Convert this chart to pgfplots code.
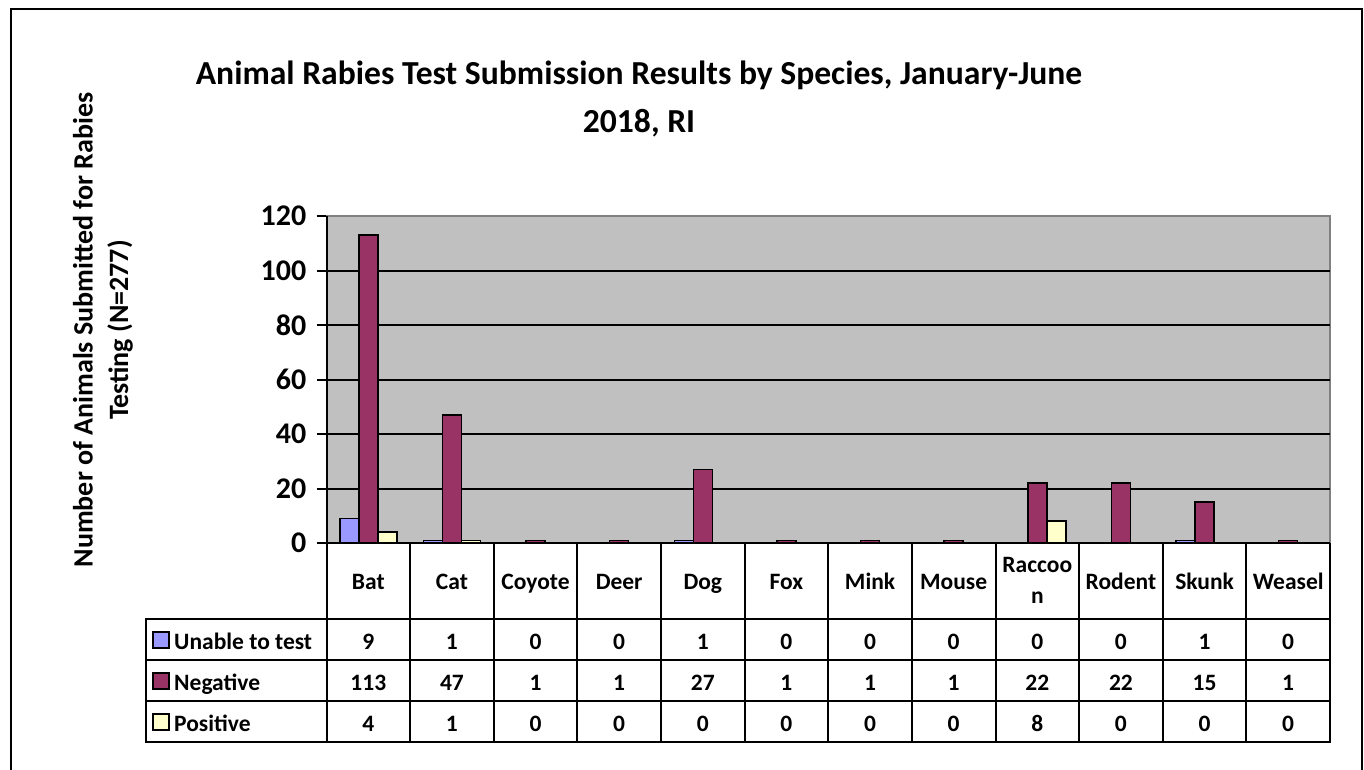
\documentclass[border=0pt]{standalone}
\usepackage{fontspec}
\setmainfont{Carlito}
\usepackage{pgfplots}
\pgfplotsset{compat=1.18}
\definecolor{unable}{HTML}{9999FF}
\definecolor{neg}{HTML}{993366}
\definecolor{pos}{HTML}{FFFFCC}
\definecolor{plotbg}{HTML}{C0C0C0}
\definecolor{bordergray}{HTML}{808080}
\begin{document}
\begin{tikzpicture}[x=1pt,y=1pt]
\useasboundingbox (0,0) rectangle (1364,-770);
\fill[white] (0,0) rectangle (1364,-770);
\draw[line width=2pt] (11,-800) -- (11,-9) -- (1362,-9) -- (1362,-800);
% title
\node[font=\fontsize{33.6}{40}\selectfont\bfseries] at (639,-75) {Animal Rabies Test Submission Results by Species, January-June};
\node[font=\fontsize{33.6}{40}\selectfont\bfseries] at (639,-123) {2018, RI};
% y label
\node[rotate=90,font=\fontsize{28}{34}\selectfont\bfseries] at (83,-330) {Number of Animals Submitted for Rabies};
\node[rotate=90,font=\fontsize{28}{34}\selectfont\bfseries] at (120,-330) {Testing (N=277)};
\begin{axis}[
  at={(326.5pt,-543pt)}, anchor=south west, scale only axis,
  width=1003.5pt, height=327pt,
  ybar=0pt, bar width=19pt,
  xmin=-0.5, xmax=11.5, ymin=0, ymax=120,
  xtick=\empty,
  ytick={0,20,...,120},
  tick pos=left,
  tick align=outside, major tick length=10pt,
  ytick style={black, line width=2pt},
  /pgf/number format/assume math mode=true,
  yticklabel style={font=\fontsize{30}{36}\selectfont\bfseries, anchor=east, inner sep=0pt, xshift=-10pt},
  axis background/.style={fill=plotbg},
  axis line style={draw=bordergray, line width=2pt},
  extra y ticks={20,40,60,80,100},
  extra y tick labels={},
  extra y tick style={ymajorgrids=true, major grid style={black, line width=2pt}, major tick length=0pt},
  clip=false,
]
\addplot[fill=unable, draw=black, line width=1.5pt] coordinates {(0,9) (1,1) (2,0) (3,0) (4,1) (5,0) (6,0) (7,0) (8,0) (9,0) (10,1) (11,0)};
\addplot[fill=neg, draw=black, line width=1.5pt] coordinates {(0,113) (1,47) (2,1) (3,1) (4,27) (5,1) (6,1) (7,1) (8,22) (9,22) (10,15) (11,1)};
\addplot[fill=pos, draw=black, line width=1.5pt] coordinates {(0,4) (1,1) (2,0) (3,0) (4,0) (5,0) (6,0) (7,0) (8,8) (9,0) (10,0) (11,0)};
\draw[black, line width=2pt] (rel axis cs:0,0) -- (rel axis cs:0,1);
\draw[black, line width=2pt] (rel axis cs:0,0) -- (rel axis cs:1,0);
\end{axis}
% data table
\begin{scope}[line width=2pt]
\draw (326.5,-543) -- (326.5,-742);
\foreach \i in {1,...,12} {\draw ({326.5+83.625*\i},-543) -- ({326.5+83.625*\i},-742);}
\draw (146,-619) rectangle (1330,-742);
\draw (146,-660) -- (1330,-660);
\draw (146,-701) -- (1330,-701);
\end{scope}
\tikzset{tt/.style={font=\fontsize{23.5}{31}\selectfont\bfseries, anchor=base, inner sep=0pt}}
\foreach \j/\n in {0/Bat,1/Cat,2/Coyote,3/Deer,4/Dog,5/Fox,6/Mink,7/Mouse,9/Rodent,10/Skunk,11/Weasel}
  {\node[tt] at ({368.3+83.625*\j},-589) {\n};}
\node[tt] at ({368.3+83.625*8},-572) {Raccoo};
\node[tt] at ({368.3+83.625*8},-603) {n};
\foreach \v [count=\i from 0] in {9,1,0,0,1,0,0,0,0,0,1,0}
  {\node[tt] at ({368.3+83.625*\i},-649) {\v};}
\foreach \v [count=\i from 0] in {113,47,1,1,27,1,1,1,22,22,15,1}
  {\node[tt] at ({368.3+83.625*\i},-690) {\v};}
\foreach \v [count=\i from 0] in {4,1,0,0,0,0,0,0,8,0,0,0}
  {\node[tt] at ({368.3+83.625*\i},-731) {\v};}
\foreach \c/\t/\y in {unable/Unable to test/-640, neg/Negative/-681, pos/Positive/-722}
  {\draw[fill=\c, line width=1.5pt] (153,\y+8) rectangle (169,\y-8);
   \node[tt, anchor=base west] at (174,\y-9) {\t};}
\end{tikzpicture}
\end{document}
